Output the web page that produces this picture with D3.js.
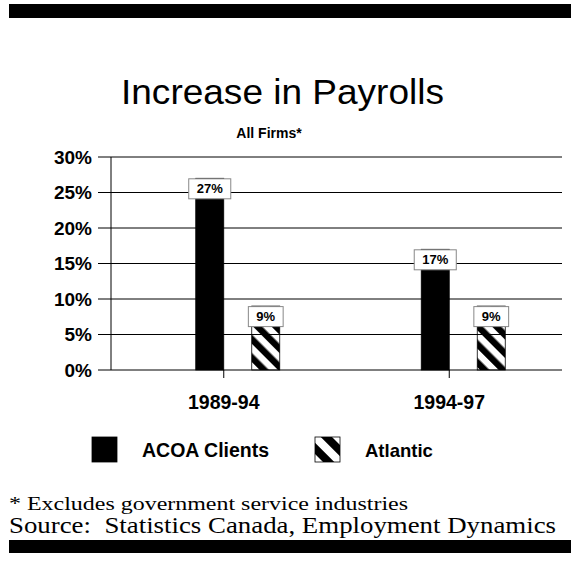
<!DOCTYPE html>
<html>
<head>
<meta charset="utf-8">
<script src="https://d3js.org/d3.v7.min.js"></script>
<style>
  body { margin: 0; background: #fff; }
  svg { display: block; }
</style>
</head>
<body>
<div id="chart"></div>
<script>
// data
var periods = ["1989-94", "1994-97"];
var seriesNames = ["ACOA Clients", "Atlantic"];
var acoaValues = [27, 17];
var atlanticValues = [9, 9];
var yTicks = [0, 5, 10, 15, 20, 25, 30];

var width = 571,
    height = 565;

var sans = "'Liberation Sans', Arial, sans-serif",
    serif = "'Liberation Serif', 'Times New Roman', serif";

var svg = d3.select("#chart").append("svg")
    .attr("width", width)
    .attr("height", height);

// hatch pattern for the Atlantic series
var defs = svg.append("defs");
defs.append("pattern")
    .attr("id", "hatch")
    .attr("patternUnits", "userSpaceOnUse")
    .attr("width", 13)
    .attr("height", 13)
    .attr("patternTransform", "rotate(-45)")
  .append("rect")
    .attr("width", 6.5)
    .attr("height", 13)
    .attr("fill", "#000");

defs.append("pattern")
    .attr("id", "hatchBig")
    .attr("patternUnits", "userSpaceOnUse")
    .attr("width", 16)
    .attr("height", 16)
    .attr("patternTransform", "translate(315,437) rotate(-45)")
  .append("rect")
    .attr("x", 4)
    .attr("width", 8)
    .attr("height", 16)
    .attr("fill", "#000");

// black rules top and bottom
svg.append("rect").attr("x", 9).attr("y", 4).attr("width", 562).attr("height", 14).attr("fill", "#000");
svg.append("rect").attr("x", 9).attr("y", 540).attr("width", 562).attr("height", 13).attr("fill", "#000");

// titles (stretched to the width they take in the picture)
svg.append("text")
    .attr("x", 121).attr("y", 104)
    .attr("textLength", 323)
    .attr("lengthAdjust", "spacingAndGlyphs")
    .style("font-family", sans)
    .style("font-size", "35px")
    .text("Increase in Payrolls");

svg.append("text")
    .attr("x", 269).attr("y", 138)
    .attr("text-anchor", "middle")
    .style("font-family", sans)
    .style("font-size", "14px")
    .style("font-weight", "bold")
    .text("All Firms*");

// scales
var plotLeft = 111, plotRight = 562;
var x = d3.scaleBand()
    .domain(periods)
    .range([plotLeft, plotRight]);

var y = d3.scaleLinear()
    .domain([0, 30])
    .range([370, 157]);

var barW = 28;

var g = svg.append("g");

// gridlines with outward ticks, labels on the left
g.selectAll(".grid")
    .data(yTicks).enter().append("line")
      .attr("class", "grid")
      .attr("x1", plotLeft - 13)
      .attr("x2", plotRight)
      .attr("y1", function(d) { return y(d); })
      .attr("y2", function(d) { return y(d); })
      .attr("stroke", "#000")
      .attr("stroke-width", 1);

g.selectAll(".ylab")
    .data(yTicks).enter().append("text")
      .attr("class", "ylab")
      .attr("x", 92)
      .attr("y", function(d) { return y(d) + 6.5; })
      .attr("text-anchor", "end")
      .style("font-family", sans)
      .style("font-size", "19px")
      .style("font-weight", "bold")
      .text(function(d) { return d + "%"; });

// y axis line
g.append("line")
    .attr("x1", plotLeft).attr("x2", plotLeft)
    .attr("y1", y(30)).attr("y2", y(0))
    .attr("stroke", "#000");

// category ticks and labels
g.selectAll(".xtick")
    .data(periods).enter().append("line")
      .attr("class", "xtick")
      .attr("x1", function(d) { return x(d) + x.bandwidth() / 2; })
      .attr("x2", function(d) { return x(d) + x.bandwidth() / 2; })
      .attr("y1", y(0))
      .attr("y2", y(0) + 8)
      .attr("stroke", "#000");

g.selectAll(".xlab")
    .data(periods).enter().append("text")
      .attr("class", "xlab")
      .attr("x", function(d) { return x(d) + x.bandwidth() / 2; })
      .attr("y", 409)
      .attr("text-anchor", "middle")
      .style("font-family", sans)
      .style("font-size", "19.5px")
      .style("font-weight", "bold")
      .text(function(d) { return d; });

// bar records
var bars = [];
periods.forEach(function(p, i) {
  var c = x(p) + x.bandwidth() / 2;
  bars.push({ x0: c - barW, v: acoaValues[i], fill: "#000" });
  bars.push({ x0: c + barW, v: atlanticValues[i], fill: "url(#hatch)" });
});

g.selectAll(".bar")
    .data(bars).enter().append("rect")
      .attr("class", "bar")
      .attr("x", function(d) { return d.x0; })
      .attr("y", function(d) { return y(d.v); })
      .attr("width", barW)
      .attr("height", function(d) { return y(0) - y(d.v); })
      .attr("fill", function(d) { return d.fill; })
      .attr("stroke", "#000")
      .attr("stroke-width", 0.8);

// value label boxes sit over the bar tops
var lab = g.selectAll(".vlab")
    .data(bars).enter().append("g")
      .attr("class", "vlab")
      .attr("transform", function(d) { return "translate(" + (d.x0 + barW / 2) + "," + y(d.v) + ")"; });

lab.append("text")
    .attr("y", 15)
    .attr("text-anchor", "middle")
    .style("font-family", sans)
    .style("font-size", "13px")
    .style("font-weight", "bold")
    .text(function(d) { return d.v + "%"; });

lab.insert("rect", "text")
    .attr("x", function() { return -(this.parentNode.querySelector("text").getComputedTextLength() + 16) / 2; })
    .attr("y", 0.5)
    .attr("width", function() { return this.parentNode.querySelector("text").getComputedTextLength() + 16; })
    .attr("height", 20)
    .attr("fill", "#fff")
    .attr("stroke", "#888")
    .attr("stroke-width", 1);

// legend
var legend = svg.append("g");
var legX = [92, 315], legTextX = [142, 365];
seriesNames.forEach(function(name, i) {
  legend.append("rect")
      .attr("x", legX[i]).attr("y", 437)
      .attr("width", 25).attr("height", 25)
      .attr("fill", i == 0 ? "#000" : "url(#hatchBig)")
      .attr("stroke", "#000")
      .attr("stroke-width", 0.8);
  legend.append("text")
      .attr("x", legTextX[i]).attr("y", 457)
      .style("font-family", sans)
      .style("font-size", i == 0 ? "19.5px" : "18.5px")
      .style("font-weight", "bold")
      .text(name);
});

// footnotes
svg.append("text")
    .attr("x", 9).attr("y", 510)
    .attr("textLength", 399)
    .attr("lengthAdjust", "spacingAndGlyphs")
    .style("font-family", serif)
    .style("font-size", "19.5px")
    .text("* Excludes government service industries");

svg.append("text")
    .attr("x", 9).attr("y", 533)
    .attr("textLength", 547)
    .attr("lengthAdjust", "spacingAndGlyphs")
    .attr("xml:space", "preserve")
    .style("white-space", "pre")
    .style("font-family", serif)
    .style("font-size", "22.5px")
    .text("Source:  Statistics Canada, Employment Dynamics");
</script>
</body>
</html>
